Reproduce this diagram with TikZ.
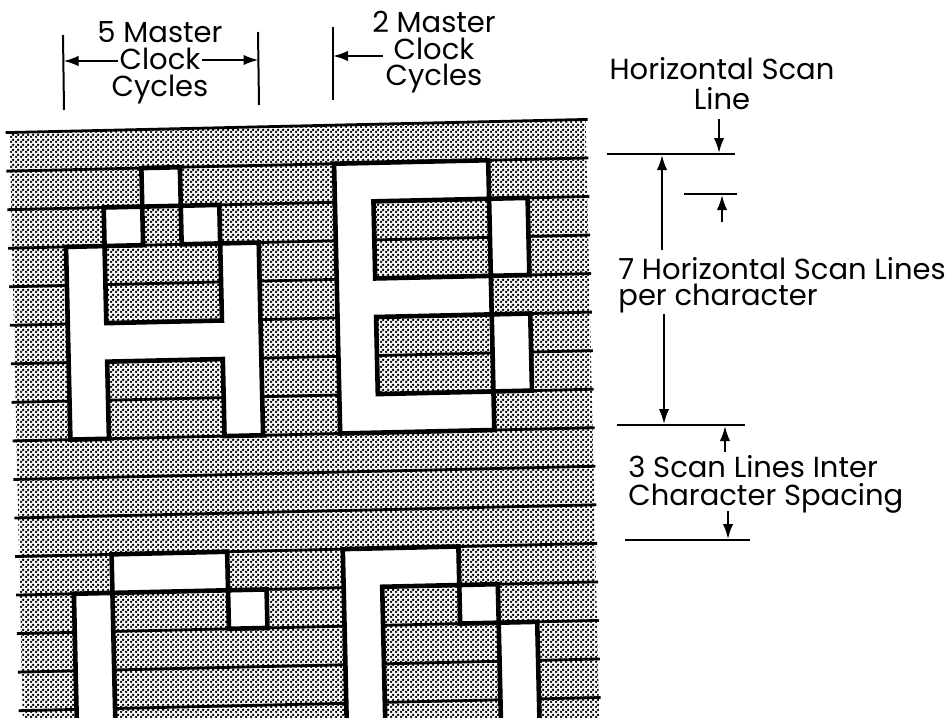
\documentclass[tikz,border=0pt]{standalone}
\usepackage{fontspec}
\setmainfont{Poppins}
\usetikzlibrary{arrows.meta,patterns.meta}
\pgfdeclarepattern{
  name=halftone,
  type=uncolored,
  bottom left={\pgfqpoint{0pt}{0pt}},
  top right={\pgfqpoint{2.5pt}{2.5pt}},
  tile size={\pgfqpoint{2.5pt}{2.5pt}},
  code={
    \pgfpathcircle{\pgfqpoint{0.625pt}{0.625pt}}{0.78pt}
    \pgfpathcircle{\pgfqpoint{1.875pt}{1.875pt}}{0.78pt}
    \pgfusepath{fill}
  }
}
\tikzset{
  scanline/.style={line width=1.4pt},
  charedge/.style={draw, line width=2.3pt, line join=miter},
  dimline/.style={line width=1pt},
  dimarrow/.style={line width=1pt, -{Latex[length=7.5pt,width=5.2pt]}},
  lbl/.style={inner sep=0pt, anchor=base},
  lblw/.style={lbl, anchor=base west, align=left},
}
\newcommand\lblfont[1]{\fontsize{14.5}{#1}\selectfont\lineskiplimit=-20pt\relax}
\newcommand\glyphcells[1]{%
  % A
  \path[#1] (2,1) rectangle (3,2);
  \path[#1] (1,2) rectangle (2,3);
  \path[#1] (3,2) rectangle (4,3);
  \path[#1] (0,3) -- (1,3) -- (1,5) -- (4,5) -- (4,3) -- (5,3) -- (5,8) -- (4,8) -- (4,6) -- (1,6) -- (1,8) -- (0,8) -- cycle;
  % B
  \path[#1] (7,1) -- (11,1) -- (11,2) -- (8,2) -- (8,4) -- (11,4) -- (11,5) -- (8,5) -- (8,7) -- (11,7) -- (11,8) -- (7,8) -- cycle;
  \path[#1] (11,2) rectangle (12,4);
  \path[#1] (11,5) rectangle (12,7);
  % C
  \path[#1] (1,11) rectangle (4,12);
  \path[#1] (0,12) rectangle (1,17.5);
  \path[#1] (4,12) rectangle (5,13);
  % D
  \path[#1] (7,11) -- (10,11) -- (10,12) -- (8,12) -- (8,17.5) -- (7,17.5) -- cycle;
  \path[#1] (10,12) rectangle (11,13);
  \path[#1] (11,13) rectangle (12,17.5);
}
\begin{document}
\begin{tikzpicture}[x=0.5pt,y=-0.5pt]
\useasboundingbox (0,0) rectangle (951,717);
\clip (0,0) rectangle (951,717);
% ---------- raster grid ----------
\begin{scope}[rotate around={1.3:(300,420)}]
\begin{scope}[shift={(70,126)},x=19.275pt,y=-19.275pt]
  \fill[pattern=halftone, pattern color=black] (-1.4,0) rectangle (13.55,17.5);
  \foreach \j in {0,...,15} \draw[scanline] (-1.5,\j) -- (13.6,\j);
  \glyphcells{fill=white}
  \glyphcells{charedge}
\end{scope}
\end{scope}
% ---------- 5 master clock cycles ----------
\node[lbl, align=center, font=\lblfont{13.5pt}] (m5) at (160,97) {5 Master\\Clock\\Cycles};
\coordinate (b1t) at (63,35);  \coordinate (b1b) at (64,110);
\coordinate (b2t) at (258,32); \coordinate (b2b) at (259,105);
\draw[dimline] (b1t) -- (b1b);
\draw[dimline] (b2t) -- (b2b);
\coordinate (a7s) at (118,61); \coordinate (a7e) at (63.5,61);
\coordinate (a8s) at (202,60); \coordinate (a8e) at (258.5,60);
\draw[dimarrow] (a7s) -- (a7e);
\draw[dimarrow] (a8s) -- (a8e);
% ---------- 2 master clock cycles ----------
\node[lbl, align=center, font=\lblfont{13pt}] (m2) at (434,85) {2 Master\\Clock\\Cycles};
\coordinate (b3t) at (333,27); \coordinate (b3b) at (333,100);
\draw[dimline] (b3t) -- (b3b);
\coordinate (a9s) at (383,56); \coordinate (a9e) at (333,56);
\draw[dimarrow] (a9s) -- (a9e);
% ---------- horizontal scan line ----------
\node[lbl, align=center, font=\lblfont{15pt}] (hs) at (722,110) {Horizontal Scan\\Line};
\coordinate (h1l) at (607,154); \coordinate (h1r) at (735,154);
\draw[dimline] (h1l) -- (h1r);
\coordinate (a1s) at (719,119); \coordinate (a1e) at (719,153);
\draw[dimarrow] (a1s) -- (a1e);
\coordinate (h2l) at (684,194); \coordinate (h2r) at (737,194);
\draw[dimline] (h2l) -- (h2r);
\coordinate (a3s) at (722,222); \coordinate (a3e) at (722,195);
\draw[dimarrow] (a3s) -- (a3e);
% ---------- 7 scan lines ----------
\node[lblw, font=\lblfont{13pt}] (sl) at (618,305) {7 Horizontal Scan Lines\\per character};
\coordinate (a2s) at (662,250); \coordinate (a2e) at (662,155);
\draw[dimarrow] (a2s) -- (a2e);
\coordinate (a4s) at (664,314); \coordinate (a4e) at (664,424);
\draw[dimarrow] (a4s) -- (a4e);
\coordinate (h3l) at (617,425); \coordinate (h3r) at (745,425);
\draw[dimline] (h3l) -- (h3r);
% ---------- 3 scan lines spacing ----------
\node[lblw, font=\lblfont{14pt}] (cs) at (628,505) {3 Scan Lines Inter\\Character Spacing};
\coordinate (a5s) at (725,452); \coordinate (a5e) at (725,426);
\draw[dimarrow] (a5s) -- (a5e);
\coordinate (a6s) at (728,511); \coordinate (a6e) at (728,539);
\draw[dimarrow] (a6s) -- (a6e);
\coordinate (h4l) at (625,540); \coordinate (h4r) at (750,540);
\draw[dimline] (h4l) -- (h4r);
\end{tikzpicture}
\end{document}
